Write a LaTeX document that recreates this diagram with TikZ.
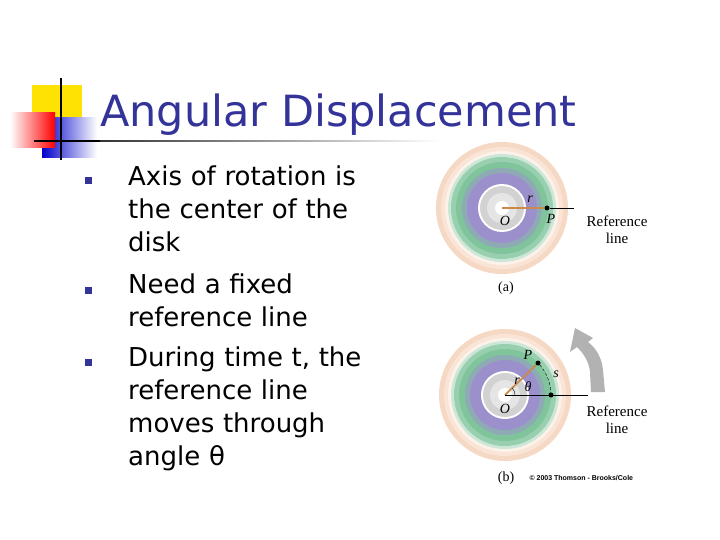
\documentclass[tikz,border=0pt]{standalone}
\usepackage{fontspec}
\setmainfont{DejaVu Sans}
\newfontfamily\serifx{Liberation Serif}
\newfontfamily\arialx{Liberation Sans}
\usetikzlibrary{shadings}
\definecolor{navy}{HTML}{333399}
\definecolor{peach}{HTML}{F6D9C4}
\definecolor{grn}{HTML}{7FC49B}
\definecolor{purp}{HTML}{9C90CC}
\definecolor{rod}{HTML}{C98A4A}
\tikzset{
 bul/.style={fill=navy,minimum size=7pt,inner sep=0pt},
 btxt/.style={anchor=north west,align=left,text width=300pt,font=\fontsize{26}{33}\selectfont,inner sep=0pt},
 lab/.style={font=\serifx\itshape\fontsize{14}{14}\selectfont,inner sep=1pt},
 ref/.style={font=\serifx\fontsize{15}{17}\selectfont,align=center,inner sep=0pt},
 dot/.style={circle,fill=black,inner sep=0pt,minimum size=5pt}
}
\newcommand{\mydisk}[2]{%
 \fill[peach] (#1,#2) circle (66);
 \fill[peach!70!white] (#1,#2) circle (61);
 \fill[peach!35!white] (#1,#2) circle (57);
 \fill[grn!40!white] (#1,#2) circle (54);
 \fill[grn!80!white] (#1,#2) circle (51);
 \fill[grn] (#1,#2) circle (46);
 \fill[grn!50!purp] (#1,#2) circle (40);
 \fill[purp] (#1,#2) circle (35);
 \fill[white] (#1,#2) circle (24);
 \fill[gray!35] (#1,#2) circle (22);
 \fill[gray!20] (#1,#2) circle (15);
 \fill[white] (#1,#2) circle (7);
}
\begin{document}
\begin{tikzpicture}[x=1pt,y=-1pt]
\useasboundingbox (0,0) rectangle (720,540);
% decoration
\fill[yellow!85!orange] (32,85) rectangle (82,118);
\shade[left color=blue!80!black,right color=white] (42,118) rectangle (97,158);
\shade[left color=white,right color=red] (10,113) rectangle (55,148);
\draw[line width=1.5pt] (61,78) -- (61,160);
\draw[line width=1.5pt] (34,141) -- (100,141);
\shade[left color=black!80,right color=white] (100,140.3) rectangle (440,141.7);
\node[anchor=base west,text=navy,font=\fontsize{43}{43}\selectfont,inner sep=0pt] (title) at (100,127) {Angular Displacement};
% bullets
\node[bul] (b1) at (88,181) {};
\node[bul] (b2) at (88,290) {};
\node[bul] (b3) at (88,362) {};
\node[btxt] (t1) at (128,166) {Axis of rotation is\\the center of the\\disk};
\node[btxt] (t2) at (128,274) {Need a fixed\\reference line};
\node[btxt] (t3) at (128,347) {During time t, the\\reference line\\moves through\\angle θ};
% disk a
\mydisk{502}{208}
\coordinate (Oa) at (502,208);
\node[dot] (Pa) at (547,208) {};
\coordinate (Ea) at (574,208);
\draw[rod,line width=1.8pt] (Oa) -- (Pa);
\draw[thin] (Pa) -- (Ea);
\node[lab] (Ola) at (505,221) {O};
\node[lab] (Pla) at (551,219) {P};
\node[lab] (rla) at (530,199) {r};
\node[ref] (refa) at (617,230) {Reference\\line};
\node[font=\serifx\fontsize{14}{14}\selectfont] (la) at (506,288) {(a)};
% disk b
\mydisk{505}{395}
\coordinate (Ob) at (505,395);
\node[dot] (Pb) at (538,363) {};
\node[dot] (Qb) at (551,395) {};
\coordinate (Eb) at (588,395);
\draw[rod,line width=1.8pt] (Ob) -- (Pb);
\draw[thin] (Ob) -- (Eb);
\draw[densely dashed] (Qb) arc[start angle=0,end angle=-44,radius=46];
\draw[thin] (515,395) arc[start angle=0,end angle=-44,radius=10];
\node[lab] (Olb) at (505,409) {O};
\node[lab] (Plb) at (528,355) {P};
\node[lab] (rlb) at (517,381) {r};
\node[lab] (thb) at (528,387) {θ};
\node[lab] (slb) at (556,374) {s};
\node[ref] (refb) at (617,420) {Reference\\line};
\fill[gray!60] (605,392) -- (603,370) .. controls (602,358) and (596,348) .. (588,342) -- (593,338) -- (575,328) -- (570,352) -- (577,347) .. controls (584,354) and (589,362) .. (590,372) -- (591,392) -- cycle;
\node[font=\serifx\fontsize{14}{14}\selectfont] (lb) at (506,478) {(b)};
\node[font=\arialx\bfseries\fontsize{7}{7}\selectfont,anchor=west] (cp) at (526,478) {© 2003 Thomson - Brooks/Cole};
\end{tikzpicture}
\end{document}
